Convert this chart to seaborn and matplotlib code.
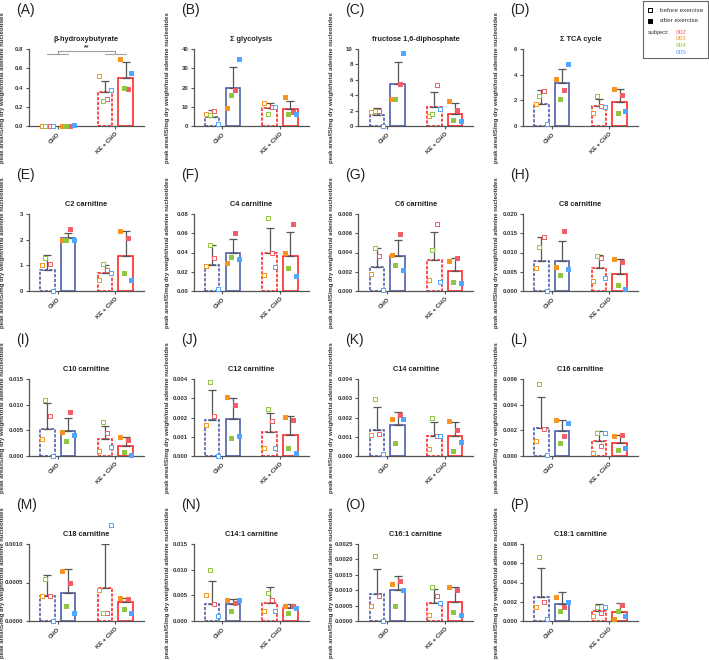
import matplotlib
matplotlib.use("Agg")
import matplotlib.pyplot as plt
from matplotlib.ticker import FormatStrFormatter, MultipleLocator
import seaborn as sns
import numpy as np
import pandas as pd

groups = ["CHO", "KE + CHO"]
times = ["before", "after"]
subjects = ["002", "003", "004", "005"]
subject_colors = ["#f25c64", "#f7941d", "#8dc63f", "#4da6ff"]

letters = list("ABCDEFGHIJKLMNOP")
titles = ["β-hydroxybutyrate", "Σ glycolysis", "fructose 1,6-diphosphate", "Σ TCA cycle",
          "C2 carnitine", "C4 carnitine", "C6 carnitine", "C8 carnitine",
          "C10 carnitine", "C12 carnitine", "C14 carnitine", "C16 carnitine",
          "C18 carnitine", "C14:1 carnitine", "C16:1 carnitine", "C18:1 carnitine"]
y_max = [0.8, 40, 10, 6, 3, 0.08, 0.008, 0.020, 0.015, 0.004, 0.004, 0.006,
         0.0010, 0.015, 0.0025, 0.008]
y_step = [0.2, 10, 2, 2, 1, 0.02, 0.002, 0.005, 0.005, 0.001, 0.001, 0.002,
          0.0005, 0.005, 0.0005, 0.002]
y_decimals = [1, 0, 0, 0, 0, 2, 3, 3, 3, 3, 3, 3, 4, 3, 4, 3]

# bar order: CHO before, CHO after, KE+CHO before, KE+CHO after
bar_mean = [
    [0.0, 0.005, 0.35, 0.50],
    [4.7, 19.6, 9.4, 8.6],
    [1.38, 5.4, 2.5, 1.6],
    [1.71, 3.32, 1.56, 1.84],
    [0.81, 2.05, 0.72, 1.38],
    [0.027, 0.039, 0.039, 0.0368],
    [0.00249, 0.00365, 0.00326, 0.00207],
    [0.0078, 0.0078, 0.0059, 0.0044],
    [0.00535, 0.00495, 0.0033, 0.0019],
    [0.00189, 0.00191, 0.00126, 0.0011],
    [0.00133, 0.00163, 0.00104, 0.00103],
    [0.00218, 0.00197, 0.00114, 0.00104],
    [0.00033, 0.00037, 0.00043, 0.00025],
    [0.0033, 0.0033, 0.0035, 0.0025],
    [0.00087, 0.0010, 0.0006, 0.00063],
    [0.0025, 0.0018, 0.0010, 0.0009],
]
bar_sd = [
    [0.0, 0.005, 0.12, 0.16],
    [3.4, 10.8, 2.5, 4.6],
    [1.02, 2.9, 1.95, 1.33],
    [1.10, 1.15, 0.54, 1.05],
    [0.60, 0.22, 0.28, 0.95],
    [0.0204, 0.0147, 0.0263, 0.0242],
    [0.00197, 0.00161, 0.00292, 0.0014],
    [0.0063, 0.0053, 0.0035, 0.0039],
    [0.00495, 0.00251, 0.0025, 0.00173],
    [0.00156, 0.00109, 0.00099, 0.00099],
    [0.0012, 0.00067, 0.00071, 0.00072],
    [0.00239, 0.00085, 0.00083, 0.00061],
    [0.00027, 0.0003, 0.00057, 0.00005],
    [0.0044, 0.0010, 0.0032, 0.0008],
    [0.00083, 0.00045, 0.00045, 0.00047],
    [0.0030, 0.0012, 0.0008, 0.0010],
]
# individual values, subjects 002, 003, 004, 005 for each bar
points = [
    [[0, 0, 0, 0], [0.005, 0.0, 0.0, 0.012], [0.28, 0.52, 0.26, 0.37], [0.38, 0.70, 0.40, 0.55]],
    [[8.0, 6.0, 5.5, 0.9], [18.6, 9.6, 16.1, 34.8], [10.0, 12.1, 6.3, 9.7], [7.2, 15.3, 6.4, 6.1]],
    [[2.0, 1.8, 1.9, 0.05], [5.45, 3.45, 3.5, 9.45], [5.35, 1.25, 1.6, 2.15], [2.1, 3.3, 0.73, 0.65]],
    [[2.73, 1.74, 2.35, 0.13], [2.78, 3.65, 2.14, 4.83], [1.55, 1.05, 2.32, 1.5], [2.43, 2.9, 1.0, 1.17]],
    [[1.05, 1.03, 1.3, 0.0], [2.4, 1.97, 1.97, 1.97], [0.81, 0.43, 1.04, 0.7], [2.07, 2.33, 0.71, 0.43]],
    [[0.034, 0.026, 0.048, 0.0018], [0.060, 0.029, 0.035, 0.0337], [0.039, 0.0168, 0.076, 0.025], [0.0695, 0.040, 0.0239, 0.0158]],
    [[0.00368, 0.00172, 0.00446, 0.0001], [0.00593, 0.00375, 0.00274, 0.00221], [0.00698, 0.00112, 0.00421, 0.00095], [0.00345, 0.00316, 0.00095, 0.00084]],
    [[0.0141, 0.00605, 0.0115, 0.0001], [0.0156, 0.0062, 0.0041, 0.0056], [0.0087, 0.0026, 0.0091, 0.0033], [0.0076, 0.0082, 0.0016, 0.0005]],
    [[0.0077, 0.00324, 0.01083, 0.0], [0.0085, 0.00475, 0.003, 0.0041], [0.00443, 0.00092, 0.0066, 0.00185], [0.0032, 0.0037, 0.0007, 0.0001]],
    [[0.00209, 0.00163, 0.00382, 0.0], [0.00267, 0.00304, 0.00096, 0.00103], [0.0018, 0.00042, 0.00244, 0.00042], [0.00189, 0.00205, 0.00039, 0.00014]],
    [[0.00115, 0.0011, 0.00297, 0.0001], [0.00212, 0.0019, 0.00065, 0.0019], [0.00105, 0.00035, 0.00198, 0.00103], [0.00135, 0.0018, 0.00028, 0.00074]],
    [[0.00212, 0.00117, 0.00558, 0.00005], [0.00154, 0.00279, 0.00104, 0.00255], [0.0008, 0.00024, 0.0018, 0.0018], [0.0016, 0.00154, 0.00048, 0.00064]],
    [[0.00033, 0.00033, 0.00055, 0.0], [0.0005, 0.00065, 0.0002, 0.0001], [0.0001, 0.0004, 0.0001, 0.00125], [0.00028, 0.0003, 0.00015, 0.0001]],
    [[0.0033, 0.005, 0.010, 0.001], [0.0035, 0.004, 0.002, 0.004], [0.004, 0.002, 0.0055, 0.002], [0.003, 0.003, 0.0015, 0.0025]],
    [[0.0008, 0.0005, 0.0021, 0.0], [0.0013, 0.0012, 0.0005, 0.001], [0.0008, 0.0002, 0.0011, 0.0006], [0.001, 0.0011, 0.0003, 0.0002]],
    [[0.002, 0.0015, 0.0067, 0.0002], [0.0015, 0.0025, 0.001, 0.002], [0.0008, 0.0005, 0.0015, 0.0015], [0.0017, 0.0002, 0.001, 0.0005]],
]

BLUE = "#4a58a8"
RED = "#ff2020"
GREY = "#555555"
bar_colors = {"CHO": BLUE, "KE + CHO": RED}
bar_ls = {"before": (0, (2.0, 1.0)), "after": "-"}
subj_offset = [0.04, -0.10, -0.035, 0.10]

sns.set_style("ticks")
plt.rcParams["font.family"] = ["Liberation Sans", "DejaVu Sans"]

W, H = 709, 660
fig = plt.figure(figsize=(W / 100, H / 100), dpi=100)


def draw_panel(ax, i):
    bars = pd.DataFrame({
        "group": [g for g in groups for t in times],
        "time": [t for g in groups for t in times],
        "mean": bar_mean[i],
        "sd": bar_sd[i],
    })
    sns.barplot(data=bars, x="group", y="mean", hue="time", order=groups,
                hue_order=times, width=0.72, gap=0.3, errorbar=None,
                legend=False, ax=ax)
    centers = {}
    for t, cont in zip(times, ax.containers):
        for g, patch in zip(groups, cont.patches):
            patch.set_facecolor("white")
            patch.set_edgecolor(bar_colors[g])
            patch.set_linestyle(bar_ls[t])
            patch.set_linewidth(1.15)
            centers[(g, t)] = patch.get_x() + patch.get_width() / 2
    xs = [centers[(g, t)] for g, t in zip(bars["group"], bars["time"])]
    ax.errorbar(xs, bars["mean"], yerr=[np.zeros(4), bars["sd"]], fmt="none",
                ecolor=GREY, elinewidth=0.9, capsize=3, capthick=0.9, zorder=3)
    for b, (g, t) in enumerate(zip(bars["group"], bars["time"])):
        for s, val in enumerate(points[i][b]):
            col = subject_colors[s]
            ax.scatter(centers[(g, t)] + subj_offset[s], val, marker="s", s=9,
                       facecolor=col if t == "after" else "white",
                       edgecolor=col, linewidth=0.7, zorder=4, clip_on=False)
    ax.set_xlim(-0.5, 1.5)
    ax.set_ylim(0, y_max[i])
    ax.yaxis.set_major_locator(MultipleLocator(y_step[i]))
    ax.yaxis.set_major_formatter(FormatStrFormatter(f"%.{y_decimals[i]}f"))
    ax.set_xlabel("")
    ax.set_ylabel("peak area/IS/mg dry weight/total adenine nucleotides",
                  fontsize=4.3, fontweight="bold", color="#333333")
    ax.yaxis.set_label_coords(-24 / 115, 0.5)
    ax.set_title(titles[i], fontsize=5.3, fontweight="bold", pad=6, color="#222222")
    ax.tick_params(axis="both", length=2.5, width=0.8, color=GREY,
                   labelsize=4.3, labelcolor="#333333", pad=1.5)
    for lab in ax.get_yticklabels():
        lab.set_fontweight("bold")
    ax.set_xticks(range(len(groups)))
    ax.set_xticklabels(groups, rotation=45, ha="right", rotation_mode="anchor",
                       fontweight="bold")
    sns.despine(ax=ax)
    for sp in ("left", "bottom"):
        ax.spines[sp].set_color(GREY)
        ax.spines[sp].set_linewidth(0.9)


for i in range(16):
    r, c = divmod(i, 4)
    left_px = 29 + c * 164.7
    top_px = 49 + r * 165
    ax = fig.add_axes([left_px / W, 1 - (top_px + 77) / H, 115 / W, 77 / H])
    draw_panel(ax, i)
    fig.text((left_px - 13) / W, 1 - (top_px - 39) / H, f"({letters[i]})",
             fontsize=10, ha="left", va="center", color="#222222")
    if i == 0:
        # significance bracket
        lc = "#a0a0a0"
        for g in (0, 1):
            ax.plot([g - 0.18, g + 0.18], [0.745, 0.745], color=lc, lw=0.8, clip_on=False)
            ax.plot([g, g], [0.745, 0.78], color=lc, lw=0.8, clip_on=False)
        ax.plot([0, 1], [0.78, 0.78], color=lc, lw=0.8, clip_on=False)
        ax.text(0.5, 0.775, "**", ha="center", va="bottom", fontsize=5,
                fontweight="bold", color="#444444")

# legend box
lax = fig.add_axes([643 / W, 1 - 58 / H, 65 / W, 57 / H])
lax.set_xlim(0, 1)
lax.set_ylim(0, 1)
lax.set_xticks([])
lax.set_yticks([])
for sp in lax.spines.values():
    sp.set_color("#666666")
    sp.set_linewidth(0.8)
lax.scatter([0.1], [0.84], marker="s", s=9, facecolor="white", edgecolor="black", linewidth=0.7)
lax.scatter([0.1], [0.65], marker="s", s=9, facecolor="black", edgecolor="black", linewidth=0.7)
lax.text(0.26, 0.84, "before exercise", fontsize=4.6, va="center", color="#333333")
lax.text(0.26, 0.65, "after exercise", fontsize=4.6, va="center", color="#333333")
lax.text(0.07, 0.45, "subject:", fontsize=4.6, va="center", color="#333333")
for s, (name, col) in enumerate(zip(subjects, subject_colors)):
    lax.text(0.5, 0.45 - s * 0.115, name, fontsize=4.6, va="center", color=col)

fig.savefig("out.png", dpi=100)
